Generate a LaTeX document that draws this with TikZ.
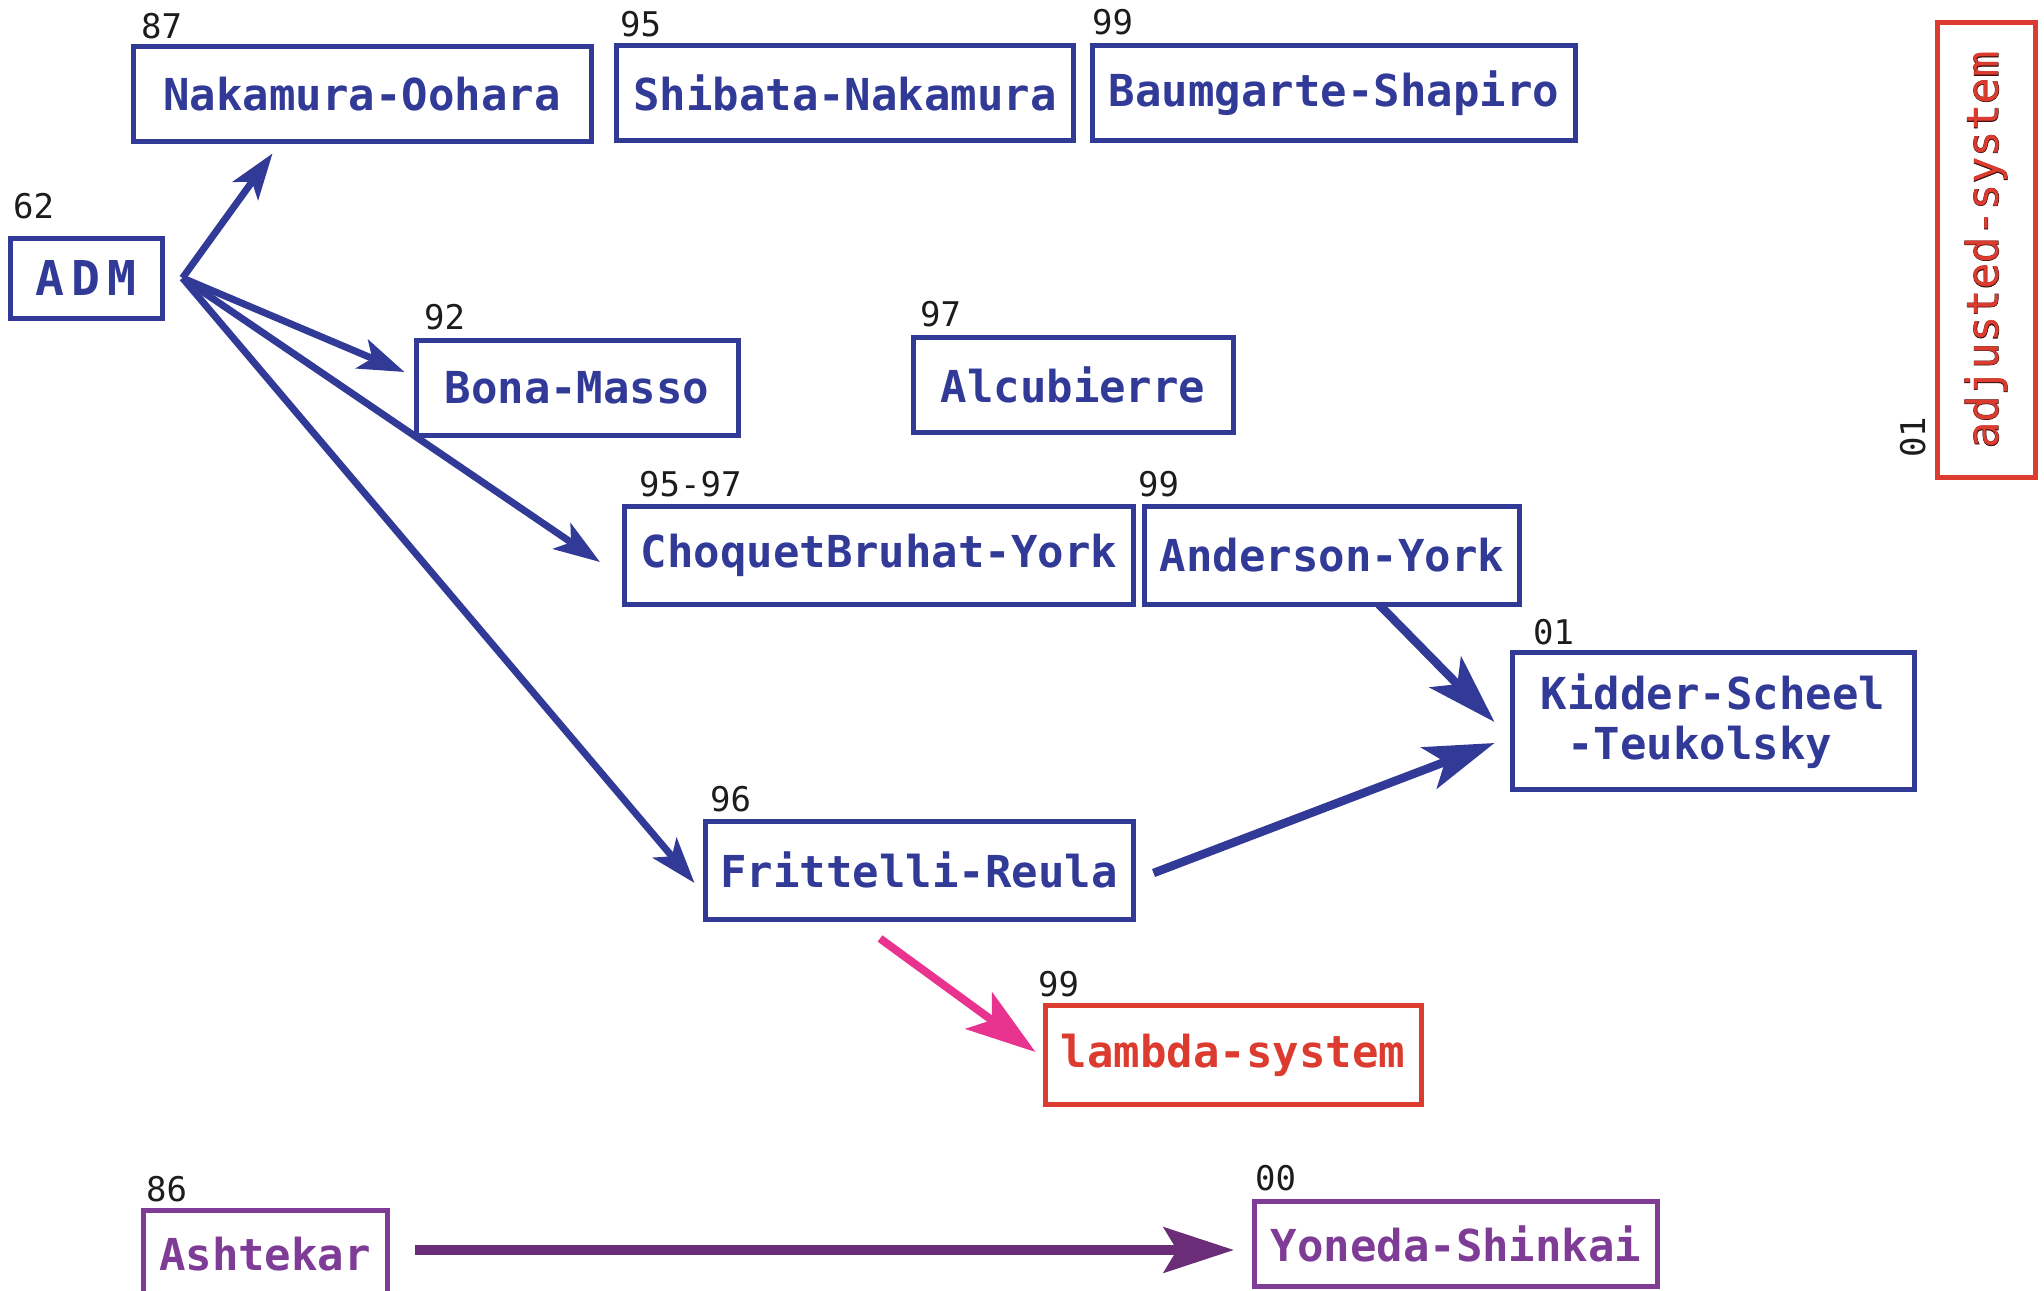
\documentclass[tikz,border=0pt]{standalone}
\usepackage{fontspec}
\usetikzlibrary{arrows.meta,calc}
\newfontfamily\monofam{DejaVu Sans Mono}
\newfontfamily\monobold[FakeBold=1.6]{DejaVu Sans Mono}
\definecolor{cblue}{RGB}{50,58,152}
\definecolor{cred}{RGB}{220,59,47}
\definecolor{cpink}{RGB}{232,51,143}
\definecolor{cpurple}{RGB}{126,60,150}
\definecolor{cdpurple}{RGB}{107,44,120}
\definecolor{cnum}{RGB}{28,28,28}
\begin{document}
\begin{tikzpicture}[x=1pt,y=-1pt,
  box/.style={draw=cblue, text=cblue, line width=5pt, inner sep=0pt,
    font=\monofam\bfseries\fontsize{44}{50}\selectfont},
  redbox/.style={box, draw=cred, text=cred},
  purplebox/.style={box, draw=cpurple, text=cpurple},
  num/.style={text=cnum, inner sep=0pt, anchor=base west,
    font=\monofam\fontsize{34}{40}\selectfont},
  arrsmall/.style={draw=cblue, line width=7pt,
    -{Stealth[length=46pt,width=31pt,inset=11pt]}},
  arrbig/.style={draw=cblue, line width=8.5pt,
    -{Stealth[length=70pt,width=44pt,inset=17pt]}},
  arrpink/.style={draw=cpink, line width=8pt,
    -{Stealth[length=70pt,width=45pt,inset=16pt]}},
  arrpurple/.style={draw=cdpurple, line width=10pt,
    -{Stealth[length=70pt,width=45pt,inset=13pt]}}]
\useasboundingbox (0,0) rectangle (2044,1290);

% boxes
\node[box, minimum width=458pt, minimum height=94pt] (nak) at (362,94) {Nakamura-Oohara};
\node[box, minimum width=457pt, minimum height=94pt] (shi) at (845,93) {Shibata-Nakamura};
\node[box, minimum width=483pt, minimum height=94pt] (bau) at (1334,93) {Baumgarte-Shapiro};
\node[box, font=\monofam\bfseries\fontsize{48}{54}\selectfont,
  minimum width=152pt, minimum height=80pt] (adm) at (86,278) {A\hspace{7pt}D\hspace{7pt}M};
\node[box, minimum width=322pt, minimum height=95pt] (bona) at (577,388) {Bona-Masso};
\node[box, minimum width=320pt, minimum height=95pt] (alc) at (1073,385) {Alcubierre};
\node[redbox, font=\fontsize{44}{50}\selectfont, rotate=90,
  minimum width=455pt, minimum height=98pt] (adj) at (1986,250)
  {\rlap{\monobold\color{black!75!cred}adjusted-system}\monofam adjusted-system};
\node[box, minimum width=509pt, minimum height=98pt] (cbk) at (879,555) {ChoquetBruhat-York};
\node[box, minimum width=375pt, minimum height=98pt] (anyo) at (1332,555) {Anderson-York};
\node[box, minimum width=402pt, minimum height=137pt, align=left] (kst) at (1713,721)
  {Kidder-Scheel\\~-Teukolsky};
\node[box, minimum width=428pt, minimum height=98pt] (frit) at (919,870) {Frittelli-Reula};
\node[redbox, minimum width=376pt, minimum height=99pt] (lam) at (1233,1055) {lambda-system};
\node[purplebox, minimum width=244pt, minimum height=94pt] (ash) at (265,1257) {\raisebox{6pt}{Ashtekar}};
\node[purplebox, minimum width=403pt, minimum height=85pt] (yon) at (1456,1244) {\raisebox{-3pt}{Yoneda-Shinkai}};

% year labels
\node[num] (l87) at (141,38) {87};
\node[num] (l95) at (620,37) {95};
\node[num] (l99a) at (1092,35) {99};
\node[num] (l62) at (13,218) {62};
\node[num] (l92) at (424,329) {92};
\node[num] (l97) at (920,326) {97};
\node[num] (l9597) at (639,496) {95-97};
\node[num] (l99b) at (1138,496) {99};
\node[num] (l01a) at (1533,644) {01};
\node[num] (l96) at (710,811) {96};
\node[num] (l99c) at (1038,996) {99};
\node[num] (l86) at (146,1201) {86};
\node[num] (l00) at (1255,1190) {00};
\node[num, rotate=90] (l01b) at (1925,458) {01};

% connectors
\coordinate (admout) at ($(adm.east)+(18,0)$);
\draw[arrsmall] (admout) -- ($(nak.south west)+(142,10)$);
\draw[arrsmall] (admout) -- ($(bona.west)+(-9,-16)$);
\draw[arrsmall] (admout) -- ($(cbk.west)+(-22,7)$);
\draw[arrsmall] (admout) -- ($(frit.west)+(-8,13)$);
\draw[arrbig] ($(anyo.south)+(47,-2)$) -- ($(kst.west)+(-15,1)$);
\draw[arrbig] ($(frit.east)+(18,3)$) -- ($(kst.west)+(-15,22)$);
\draw[arrpink] ($(frit.south)+(-39,17)$) -- ($(lam.west)+(-7,-3)$);
\draw[arrpurple] ($(ash.east)+(25,-7)$) -- ($(yon.west)+(-18,6)$);
\end{tikzpicture}
\end{document}
